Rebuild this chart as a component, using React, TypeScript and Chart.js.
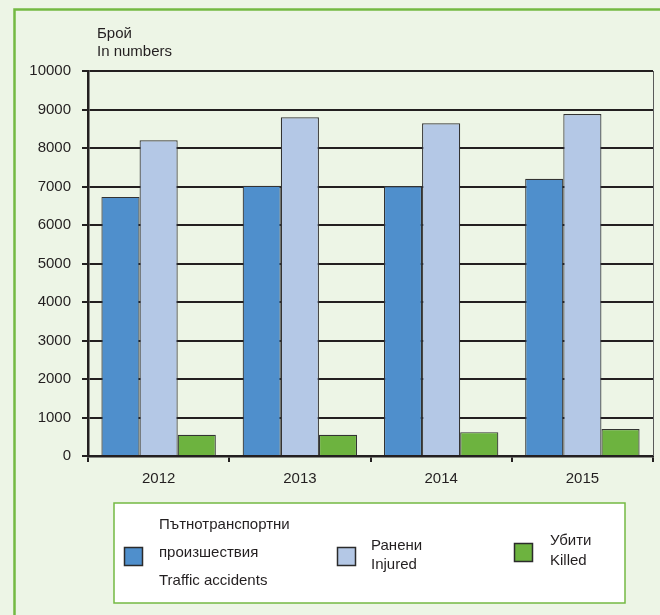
import React, { useEffect, useRef } from "react";
import { Chart, registerables } from "chart.js";

Chart.register(...registerables);

const years = ["2012", "2013", "2014", "2015"];
const accidents = [6730, 7020, 7010, 7200];
const injured = [8200, 8800, 8640, 8880];
const killed = [550, 550, 620, 700];
const yTitle = ["Брой", "In numbers"];
const legendAccidents = ["Пътнотранспортни", "произшествия", "Traffic accidents"];
const legendInjured = ["Ранени", "Injured"];
const legendKilled = ["Убити", "Killed"];

const BG = "#edf5e6";
const FRAME = "#74b943";
const TEXT = "#231f20";
const FONT = "Liberation Sans, Arial, sans-serif";

const decor = {
  id: "decor",
  beforeDraw(chart: any) {
    const ctx = chart.ctx;
    ctx.save();
    ctx.fillStyle = BG;
    ctx.fillRect(0, 0, chart.width, chart.height);
    ctx.strokeStyle = FRAME;
    ctx.lineWidth = 2.5;
    ctx.beginPath();
    ctx.moveTo(14.5, chart.height + 5);
    ctx.lineTo(14.5, 9.5);
    ctx.lineTo(chart.width + 5, 9.5);
    ctx.stroke();
    ctx.restore();
  },
  afterDatasetsDraw(chart: any) {
    const ctx = chart.ctx;
    const a = chart.chartArea;
    ctx.save();
    ctx.strokeStyle = "#5a5a5a";
    ctx.lineWidth = 1;
    ctx.beginPath();
    ctx.moveTo(a.right + 0.5, a.top);
    ctx.lineTo(a.right + 0.5, a.bottom);
    ctx.stroke();

    ctx.fillStyle = TEXT;
    ctx.font = "15px " + FONT;
    ctx.textBaseline = "middle";
    ctx.textAlign = "left";
    ctx.fillText(yTitle[0], 97, 34);
    ctx.fillText(yTitle[1], 97, 52);

    ctx.fillStyle = "#ffffff";
    ctx.fillRect(114, 503, 511, 100);
    ctx.strokeStyle = FRAME;
    ctx.lineWidth = 1.5;
    ctx.strokeRect(114, 503, 511, 100);

    const ds = chart.data.datasets;
    const sw = (x: number, y: number, c: string) => {
      ctx.fillStyle = c;
      ctx.fillRect(x, y, 18, 18);
      ctx.strokeStyle = "#2b2b2b";
      ctx.lineWidth = 1.5;
      ctx.strokeRect(x, y, 18, 18);
    };
    sw(124.5, 547.5, ds[0].backgroundColor);
    sw(337.5, 547.5, ds[1].backgroundColor);
    sw(514.5, 543.5, ds[2].backgroundColor);

    ctx.fillStyle = TEXT;
    ctx.font = "15px " + FONT;
    ctx.textBaseline = "middle";
    ctx.fillText(legendAccidents[0], 159, 525);
    ctx.fillText(legendAccidents[1], 159, 553);
    ctx.fillText(legendAccidents[2], 159, 581);
    ctx.fillText(legendInjured[0], 371, 546);
    ctx.fillText(legendInjured[1], 371, 565);
    ctx.fillText(legendKilled[0], 550, 541);
    ctx.fillText(legendKilled[1], 550, 561);
    ctx.restore();
  },
};

export default function App() {
  const ref = useRef<HTMLCanvasElement>(null);
  useEffect(() => {
    document.body.style.margin = "0";
    const chart = new Chart(ref.current as HTMLCanvasElement, {
      type: "bar",
      data: {
        labels: years,
        datasets: [
          { label: legendAccidents.join(" "), data: accidents, backgroundColor: "#4f8fcc", borderColor: "#333333", borderWidth: 1.2 },
          { label: legendInjured.join(" "), data: injured, backgroundColor: "#b4c8e6", borderColor: "#333333", borderWidth: 1.2 },
          { label: legendKilled.join(" "), data: killed, backgroundColor: "#6db33f", borderColor: "#333333", borderWidth: 1.2 },
        ],
      },
      options: {
        animation: false,
        responsive: false,
        maintainAspectRatio: false,
        layout: { padding: { left: 0, top: 71, right: 7, bottom: 129 } },
        datasets: { bar: { categoryPercentage: 0.81, barPercentage: 1 } },
        plugins: { legend: { display: false }, tooltip: { enabled: false } },
        scales: {
          x: {
            afterFit: (s: any) => { s.height = 30; },
            grid: { drawOnChartArea: false, color: TEXT, lineWidth: 2, tickLength: 6, offset: true },
            border: { color: TEXT, width: 2.5 },
            ticks: { color: TEXT, font: { size: 15, family: FONT }, padding: 8 },
          },
          y: {
            min: 0,
            max: 10000,
            afterFit: (s: any) => { s.width = 88; },
            grid: { color: TEXT, lineWidth: 2, tickLength: 6 },
            border: { color: TEXT, width: 2.5 },
            ticks: {
              stepSize: 1000,
              color: TEXT,
              font: { size: 15, family: FONT },
              padding: 11,
              callback: (v: any) => String(v),
            },
          },
        },
      },
      plugins: [decor],
    } as any);
    return () => chart.destroy();
  }, []);
  return (
    <div style={{ position: "absolute", left: 0, top: 0, width: 660, height: 615 }}>
      <canvas ref={ref} width={660} height={615} style={{ display: "block", width: 660, height: 615 }} />
    </div>
  );
}
